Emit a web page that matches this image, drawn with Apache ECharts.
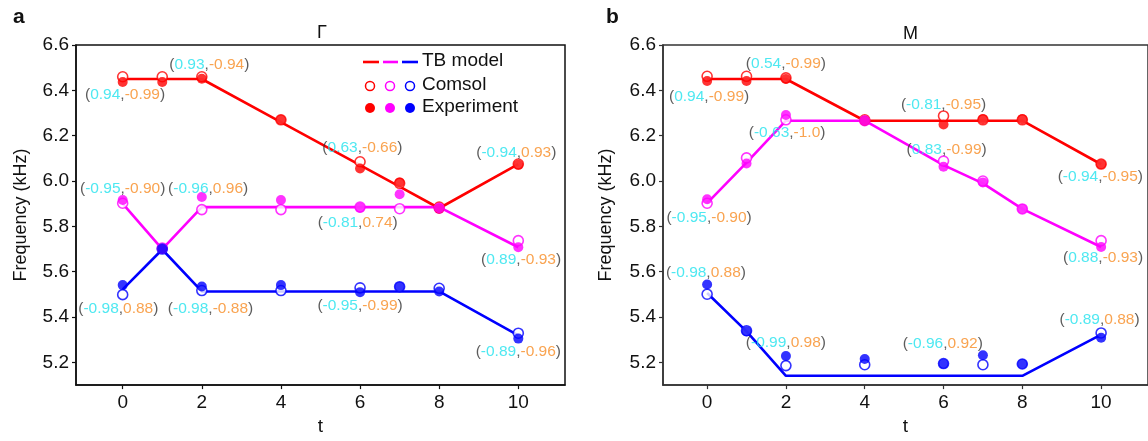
<!DOCTYPE html>
<html><head><meta charset="utf-8">
<script src="https://cdn.jsdelivr.net/npm/echarts@6/dist/echarts.min.js"></script>
<style>html,body{margin:0;padding:0;background:#fff}#c{width:1148px;height:441px}</style>
</head><body><div id="c"></div>
<script>
const tVals = [0, 1, 2, 4, 6, 7, 8, 10];
const xTicks = [0, 2, 4, 6, 8, 10];
const yTicks = [5.2, 5.4, 5.6, 5.8, 6.0, 6.2, 6.4, 6.6];
const panelTitles = ['Γ', 'M'];
const panelLetters = ['a', 'b'];
const legendNames = ['TB model', 'Comsol', 'Experiment'];

// Panel a (Γ)
const G_TB_red   = [6.45, 6.45, 6.45, 6.26, 6.07, 5.975, 5.88, 6.075];
const G_TB_mag   = [5.90, 5.70, 5.885, 5.885, 5.885, 5.885, 5.885, 5.708];
const G_TB_blue  = [5.522, 5.698, 5.513, 5.513, 5.513, 5.513, 5.513, 5.319];
const G_COM_red  = [6.46, 6.46, 6.46, 6.27, 6.085, 5.99, 5.885, 6.075];
const G_COM_mag  = [5.902, 5.705, 5.874, 5.874, 5.885, 5.878, 5.88, 5.737];
const G_COM_blue = [5.499, 5.70, 5.517, 5.517, 5.529, 5.534, 5.527, 5.329];
const G_EXP_red  = [6.437, 6.437, 6.451, 6.27, 6.055, 5.994, 5.878, 6.072];
const G_EXP_mag  = [5.916, 5.70, 5.93, 5.916, 5.882, 5.942, 5.88, 5.708];
const G_EXP_blue = [5.541, 5.70, 5.535, 5.541, 5.51, 5.534, 5.513, 5.305];

// Panel b (M)
const M_TB_red   = [6.45, 6.45, 6.45, 6.266, 6.266, 6.266, 6.266, 6.074];
const M_TB_mag   = [5.903, 6.081, 6.266, 6.266, 6.07, 5.99, 5.877, 5.709];
const M_TB_blue  = [5.506, 5.337, 5.141, 5.141, 5.141, 5.141, 5.141, 5.323];
const M_COM_red  = [6.462, 6.462, 6.455, 6.27, 6.287, 6.27, 6.27, 6.075];
const M_COM_mag  = [5.902, 6.102, 6.27, 6.266, 6.088, 6.0, 5.877, 5.737];
const M_COM_blue = [5.501, 5.34, 5.186, 5.19, 5.195, 5.19, 5.193, 5.33];
const M_EXP_red  = [6.441, 6.441, 6.45, 6.266, 6.249, 6.273, 6.273, 6.074];
const M_EXP_mag  = [5.92, 6.077, 6.291, 6.266, 6.063, 5.994, 5.877, 5.709];
const M_EXP_blue = [5.544, 5.337, 5.228, 5.215, 5.194, 5.232, 5.193, 5.309];

// Annotations: [t, freq, first value, second value]
const G_ANN = [
  [0.06, 6.38, '0.94', '-0.99'], [2.19, 6.515, '0.93', '-0.94'],
  [6.06, 6.147, '0.63', '-0.66'], [9.95, 6.126, '-0.94', '0.93'],
  [0.0, 5.967, '-0.95', '-0.90'], [2.16, 5.967, '-0.96', '0.96'],
  [5.94, 5.814, '-0.81', '0.74'], [10.07, 5.652, '0.89', '-0.93'],
  [-0.11, 5.439, '-0.98', '0.88'], [2.22, 5.439, '-0.98', '-0.88'],
  [6.0, 5.449, '-0.95', '-0.99'], [10.0, 5.248, '-0.89', '-0.96']
];
const M_ANN = [
  [0.05, 6.373, '0.94', '-0.99'], [2.0, 6.516, '0.54', '-0.99'],
  [2.03, 6.212, '-0.63', '-1.0'], [6.0, 6.338, '-0.81', '-0.95'],
  [6.08, 6.137, '0.83', '-0.99'], [9.98, 6.02, '-0.94', '-0.95'],
  [0.05, 5.838, '-0.95', '-0.90'], [-0.03, 5.597, '-0.98', '0.88'],
  [2.0, 5.286, '-0.99', '0.98'], [5.98, 5.281, '-0.96', '0.92'],
  [10.05, 5.66, '0.88', '-0.93'], [9.96, 5.387, '-0.89', '0.88']
];

const RED = '#ff0000', MAG = '#ff00ff', BLUE = '#0000ff';
const CYAN = '#22e2ee', ORANGE = '#f78c24', PAREN = '#333333';
const FONT = '"Liberation Sans", Arial, sans-serif';

function pts(ys) { return tVals.map((t, i) => [t, ys[i]]); }

const panels = [
  {tb: [G_TB_red, G_TB_mag, G_TB_blue], com: [G_COM_red, G_COM_mag, G_COM_blue], exp: [G_EXP_red, G_EXP_mag, G_EXP_blue], ann: G_ANN},
  {tb: [M_TB_red, M_TB_mag, M_TB_blue], com: [M_COM_red, M_COM_mag, M_COM_blue], exp: [M_EXP_red, M_EXP_mag, M_EXP_blue], ann: M_ANN}
];
const colors = [RED, MAG, BLUE];

const series = [];
panels.forEach((p, pi) => {
  colors.forEach((col, ci) => {
    series.push({type: 'line', xAxisIndex: pi, yAxisIndex: pi, data: pts(p.tb[ci]), showSymbol: false, symbol: 'none',
      lineStyle: {color: col, width: 2.6}, silent: true, z: 2, animation: false});
  });
  colors.forEach((col, ci) => {
    series.push({type: 'scatter', xAxisIndex: pi, yAxisIndex: pi, data: pts(p.com[ci]), symbol: 'circle', symbolSize: 10,
      itemStyle: {color: '#fff', borderColor: col, borderWidth: 1.6}, silent: true, z: 3, animation: false});
  });
  colors.forEach((col, ci) => {
    series.push({type: 'scatter', xAxisIndex: pi, yAxisIndex: pi, data: pts(p.exp[ci]), symbol: 'circle', symbolSize: 10,
      itemStyle: {color: col}, silent: true, z: 4, animation: false});
  });
  series.push({type: 'scatter', xAxisIndex: pi, yAxisIndex: pi, data: p.ann, symbolSize: 0, silent: true, z: 6, animation: false,
    encode: {x: 0, y: 1},
    label: {show: true, position: 'inside', fontFamily: FONT, fontSize: 15.5,
      formatter: prm => '{p|(}{c|' + prm.data[2] + '}{p|,}{o|' + prm.data[3] + '}{p|)}',
      rich: {p: {color: PAREN, fontSize: 15.5, fontFamily: FONT}, c: {color: CYAN, fontSize: 15.5, fontFamily: FONT}, o: {color: ORANGE, fontSize: 15.5, fontFamily: FONT}}}
  });
});

const grids = [
  {left: 76, top: 45, width: 489, height: 354},
  {left: 663, top: 45, width: 490, height: 357}
];
const xRanges = [[-1.18, 11.18], [-1.12, 11.19]];
const nameGaps = [46, 48];
const axisCols = ['#111', '#333'];

const option = {
  animation: false,
  backgroundColor: '#fff',
  title: [
    {text: panelLetters[0], left: 8, top: 2, textStyle: {fontFamily: FONT, fontSize: 21, fontWeight: 'bold', color: '#111'}},
    {text: panelLetters[1], left: 601, top: 2, textStyle: {fontFamily: FONT, fontSize: 21, fontWeight: 'bold', color: '#111'}},
    {text: panelTitles[0], left: 312, top: 19, textStyle: {fontFamily: FONT, fontSize: 18, fontWeight: 'normal', color: '#111'}},
    {text: panelTitles[1], left: 898, top: 20, textStyle: {fontFamily: FONT, fontSize: 18, fontWeight: 'normal', color: '#111'}}
  ],
  grid: grids.map((g, i) => Object.assign({show: true, borderColor: axisCols[i], borderWidth: 1.5, backgroundColor: 'transparent'}, g)),
  xAxis: [0, 1].map(i => ({
    type: 'value', gridIndex: i, min: xRanges[i][0], max: xRanges[i][1],
    name: 't', nameLocation: 'middle', nameGap: 27,
    nameTextStyle: {fontFamily: FONT, fontSize: 19, color: '#111'},
    splitLine: {show: false},
    axisLine: {show: true, onZero: false, lineStyle: {color: axisCols[i], width: 1.5}},
    axisTick: {show: true, inside: false, length: 4, customValues: xTicks, lineStyle: {color: axisCols[i], width: 1.2}},
    axisLabel: {customValues: xTicks, fontFamily: FONT, fontSize: 19, color: '#111', margin: 8}
  })),
  yAxis: [0, 1].map(i => ({
    type: 'value', gridIndex: i, min: 5.1, max: 6.6,
    name: 'Frequency (kHz)', nameLocation: 'middle', nameGap: nameGaps[i], nameRotate: 90,
    nameTextStyle: {fontFamily: FONT, fontSize: 18, color: '#111'},
    splitLine: {show: false},
    axisLine: {show: true, onZero: false, lineStyle: {color: axisCols[i], width: 1.5}},
    axisTick: {show: true, inside: false, length: 4, customValues: yTicks, lineStyle: {color: axisCols[i], width: 1.2}},
    axisLabel: {customValues: yTicks, fontFamily: FONT, fontSize: 19, color: '#111', margin: 7,
      formatter: v => v.toFixed(1)}
  })),
  graphic: [
    {type: 'line', shape: {x1: 363, y1: 62, x2: 379, y2: 62}, style: {stroke: RED, lineWidth: 2.6}},
    {type: 'line', shape: {x1: 383, y1: 62, x2: 398, y2: 62}, style: {stroke: MAG, lineWidth: 2.6}},
    {type: 'line', shape: {x1: 402, y1: 62, x2: 418, y2: 62}, style: {stroke: BLUE, lineWidth: 2.6}},
    {type: 'circle', shape: {cx: 370, cy: 86, r: 4.5}, style: {fill: '#fff', stroke: RED, lineWidth: 1.5}},
    {type: 'circle', shape: {cx: 390, cy: 86, r: 4.5}, style: {fill: '#fff', stroke: MAG, lineWidth: 1.5}},
    {type: 'circle', shape: {cx: 410, cy: 86, r: 4.5}, style: {fill: '#fff', stroke: BLUE, lineWidth: 1.5}},
    {type: 'circle', shape: {cx: 370, cy: 108, r: 5}, style: {fill: RED}},
    {type: 'circle', shape: {cx: 390, cy: 108, r: 5}, style: {fill: MAG}},
    {type: 'circle', shape: {cx: 410, cy: 108, r: 5}, style: {fill: BLUE}},
    {type: 'text', left: 422, top: 51, style: {text: legendNames[0], font: '19px ' + FONT, fill: '#111'}},
    {type: 'text', left: 422, top: 75, style: {text: legendNames[1], font: '19px ' + FONT, fill: '#111'}},
    {type: 'text', left: 422, top: 97, style: {text: legendNames[2], font: '19px ' + FONT, fill: '#111'}}
  ],
  series: series
};
const chart = echarts.init(document.getElementById('c'), null, {renderer: 'canvas'});
chart.setOption(option);
</script></body></html>
